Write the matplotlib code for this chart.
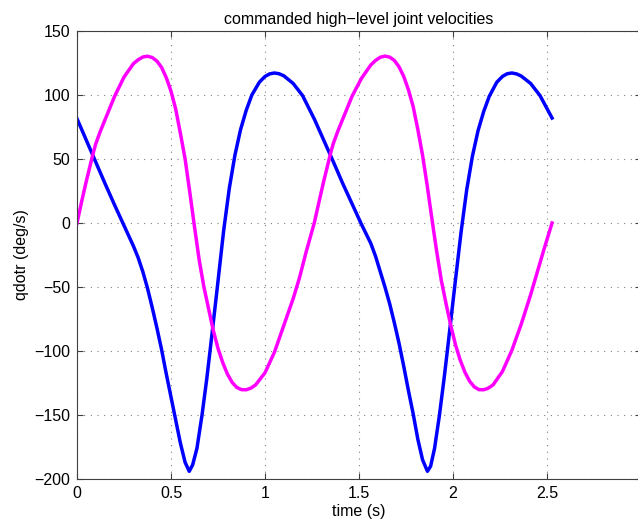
import matplotlib
matplotlib.use('Agg')
import matplotlib.pyplot as plt

# time stamps (s) and joint velocities (deg/s)
t_blue = [0.0, 0.05, 0.1, 0.15, 0.2, 0.25, 0.3, 0.325, 0.35, 0.375, 0.4, 0.425,
          0.45, 0.475, 0.5, 0.525, 0.55, 0.575, 0.597, 0.615, 0.638, 0.665, 0.69,
          0.71, 0.745, 0.78, 0.81, 0.84, 0.87, 0.9, 0.93, 0.97, 1.0, 1.025, 1.05,
          1.075, 1.1, 1.15, 1.2, 1.263,
          1.313, 1.363, 1.413, 1.463, 1.513, 1.563, 1.588, 1.613, 1.638, 1.663,
          1.688, 1.713, 1.738, 1.763, 1.788, 1.813, 1.838, 1.864, 1.881, 1.902,
          1.928, 1.953, 1.973, 2.008, 2.043, 2.073, 2.103, 2.133, 2.163, 2.193,
          2.233, 2.263, 2.288, 2.313, 2.338, 2.363, 2.413, 2.463, 2.527]
qd_blue = [81.5, 64.5, 47.5, 30.5, 14, -2, -18, -27, -38, -51, -66, -82,
           -99, -118, -136, -154, -172, -187, -194, -189, -176, -150, -122,
           -97, -52, -6, 27, 53, 73, 88, 100, 110, 114.5, 116.5, 117.2,
           116.6, 115, 109, 99.5, 81,
           64.5, 48, 31, 15, -1, -16, -26, -38, -50, -63,
           -78, -94, -112, -131, -149, -169, -185, -194, -190, -176,
           -150, -121, -96, -51, -7, 26, 52, 72, 87, 99,
           110, 114.5, 116.6, 117.2, 116.5, 114.8, 109, 99.5, 82]

t_mag = [0.0, 0.025, 0.05, 0.085, 0.1, 0.125, 0.15, 0.2, 0.25, 0.3, 0.325, 0.35,
         0.375, 0.4, 0.425, 0.45, 0.475, 0.5, 0.525, 0.55, 0.575, 0.6, 0.625,
         0.65, 0.675, 0.7, 0.725, 0.75, 0.775, 0.8, 0.825, 0.85, 0.875, 0.9,
         0.925, 0.95, 1.0, 1.05, 1.1, 1.15, 1.182, 1.22, 1.262,
         1.288, 1.313, 1.348, 1.363, 1.388, 1.413, 1.463, 1.513, 1.563, 1.588,
         1.613, 1.638, 1.663, 1.688, 1.713, 1.738, 1.763, 1.788, 1.813, 1.838,
         1.863, 1.888, 1.913, 1.938, 1.963, 1.988, 2.013, 2.038, 2.063, 2.088,
         2.113, 2.138, 2.163, 2.188, 2.213, 2.263, 2.313, 2.363, 2.413, 2.445,
         2.483, 2.527]
qd_mag = [0, 17, 33, 54, 62, 72, 81, 99, 114, 124.5, 127.5, 129.7,
          130.3, 129.3, 126.5, 121.5, 113.5, 103, 89, 70, 50, 24, -3,
          -29, -50, -67, -84, -98, -109, -118, -124.5, -128.5, -130.2, -130.3,
          -129, -126.5, -117, -101, -80, -59, -43.5, -22, 0,
          17, 33, 54, 62, 72, 81, 99, 113, 123.5, 127,
          129.5, 130.4, 129.6, 127, 122, 114.5, 104, 91, 73, 53,
          29, 3, -22, -45, -63, -80, -95, -107, -116.5, -123.5,
          -128, -130.2, -130.3, -129, -126.5, -116, -99.5, -79, -56, -40,
          -21, 0]

xticks = [0, 0.5, 1, 1.5, 2, 2.5]
xticklabels = ['0', '0.5', '1', '1.5', '2', '2.5']
yticks = [-200, -150, -100, -50, 0, 50, 100, 150]

plt.rcParams['font.family'] = ['Liberation Sans', 'DejaVu Sans']
plt.rcParams['font.size'] = 11.5

fig = plt.figure(figsize=(6.38, 5.22), dpi=100)
# axes run a little past the right edge of the picture, as in the reference
ax = fig.add_axes([0.1207, 0.0824, 0.884, 0.8582])

ax.plot(t_blue, qd_blue, color='#0000ff', linewidth=2.5)
ax.plot(t_mag, qd_mag, color='#ff00ff', linewidth=2.5)

ax.set_xlim(0, 3)
ax.set_ylim(-200, 150)
ax.set_xticks(xticks)
ax.set_xticklabels(xticklabels)
ax.set_yticks(yticks)
ax.grid(True, linestyle=(0, (1, 5)), color='#808080', linewidth=0.8)
ax.tick_params(direction='in', top=True, right=True, length=4, width=0.8,
               colors='#404040', labelcolor='black', pad=5)
for s in ax.spines.values():
    s.set_color('#404040')
    s.set_linewidth(0.8)

ax.set_title('commanded high\u2212level joint velocities', fontsize=11.5, pad=5)
ax.set_xlabel('time (s)', labelpad=2)
ax.set_ylabel('qdotr (deg/s)', labelpad=4)

fig.savefig('out.png', dpi=100)
